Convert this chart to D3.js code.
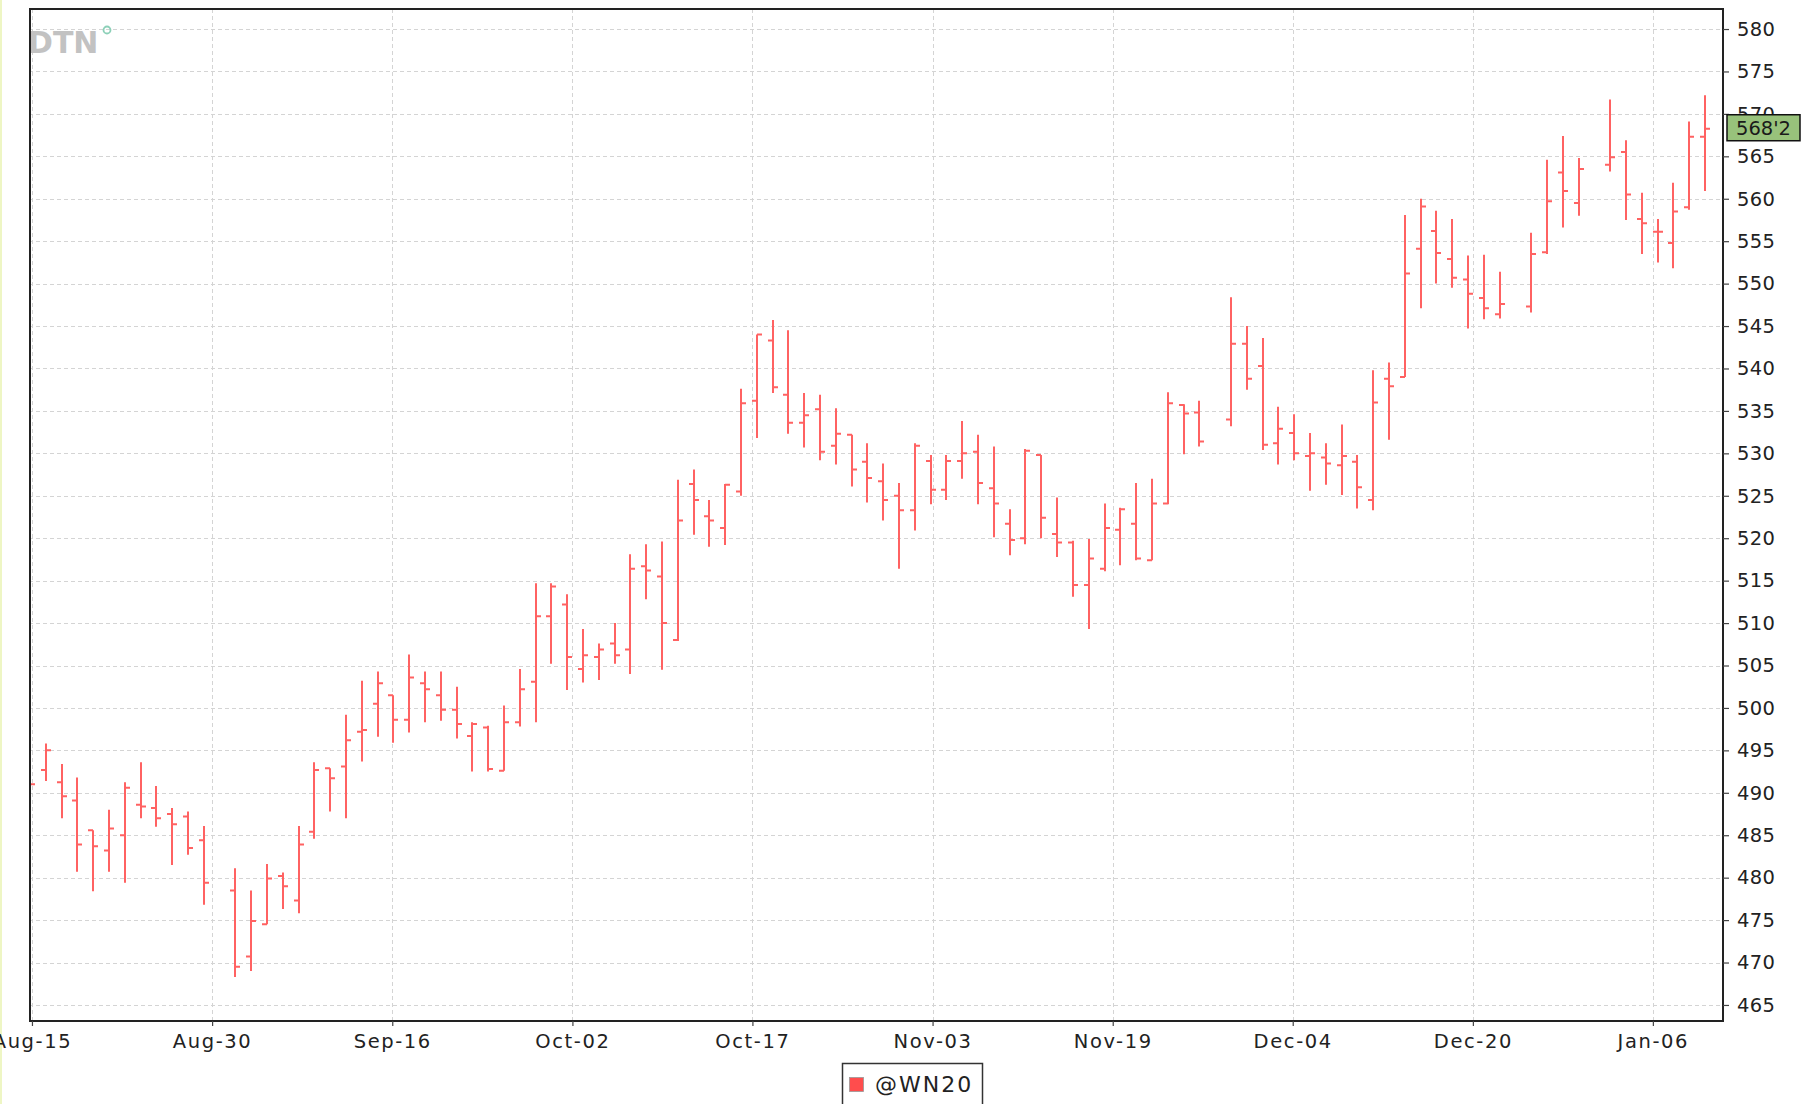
<!DOCTYPE html>
<html>
<head>
<meta charset="utf-8">
<script src="https://cdn.jsdelivr.net/npm/d3@7"></script>
<style>
  html, body { margin: 0; padding: 0; background: #ffffff; }
  svg { display: block; }
  text { font-family: "DejaVu Sans", sans-serif; }
</style>
</head>
<body>
<svg id="chart" width="1807" height="1104"></svg>
<script>
// ---- data (OHLC, @WN20 daily bars) ----
const dates = [
  "2019-08-15","2019-08-16","2019-08-19","2019-08-20","2019-08-21","2019-08-22","2019-08-23",
  "2019-08-26","2019-08-27","2019-08-28","2019-08-29","2019-08-30",
  "2019-09-03","2019-09-04","2019-09-05","2019-09-06","2019-09-09","2019-09-10","2019-09-11",
  "2019-09-12","2019-09-13","2019-09-16","2019-09-17","2019-09-18","2019-09-19","2019-09-20",
  "2019-09-23","2019-09-24","2019-09-25","2019-09-26","2019-09-27","2019-09-30","2019-10-01",
  "2019-10-02","2019-10-03","2019-10-04","2019-10-07","2019-10-08","2019-10-09","2019-10-10",
  "2019-10-11","2019-10-14","2019-10-15","2019-10-16","2019-10-17","2019-10-18","2019-10-21",
  "2019-10-22","2019-10-23","2019-10-24","2019-10-25","2019-10-28","2019-10-29","2019-10-30",
  "2019-10-31","2019-11-01","2019-11-04","2019-11-05","2019-11-06","2019-11-07","2019-11-08",
  "2019-11-11","2019-11-12","2019-11-13","2019-11-14","2019-11-15","2019-11-18","2019-11-19",
  "2019-11-20","2019-11-21","2019-11-22","2019-11-25","2019-11-26","2019-11-27",
  "2019-11-29","2019-12-02","2019-12-03","2019-12-04","2019-12-05","2019-12-06","2019-12-09",
  "2019-12-10","2019-12-11","2019-12-12","2019-12-13","2019-12-16","2019-12-17","2019-12-18",
  "2019-12-19","2019-12-20","2019-12-23","2019-12-24",
  "2019-12-26","2019-12-27","2019-12-30","2019-12-31",
  "2020-01-02","2020-01-03","2020-01-06","2020-01-07","2020-01-08","2020-01-09","2020-01-10"
];
const opens = [
  491.0,492.7,491.25,489.1,485.6,483.2,485.0,488.6,488.2,487.5,487.2,484.4,
  478.5,470.7,474.5,480.2,477.3,485.4,492.9,493.1,497.2,500.5,501.5,498.6,502.9,501.5,
  499.8,496.7,497.7,492.6,498.3,503.1,510.8,512.2,504.6,506.0,507.6,506.9,516.7,515.5,
  508.0,526.4,522.6,521.2,525.5,536.2,543.3,536.9,533.6,535.2,530.9,532.2,529.0,526.7,
  525.0,523.3,529.1,525.7,529.1,530.2,525.9,521.7,520.0,529.8,520.5,519.5,514.5,516.4,
  521.0,521.7,517.4,524.1,535.7,534.8,
  534.0,542.9,540.3,531.2,532.4,529.7,529.5,528.6,529.0,524.5,538.8,539.0,554.1,556.2,
  552.9,550.5,548.3,546.4,
  547.3,553.7,563.1,559.5,
  564.0,565.5,557.6,556.1,554.8,559.0,567.3
];
const highs = [
  492.0,495.8,493.4,491.8,485.6,488.0,491.25,493.6,490.8,488.2,487.8,486.1,
  481.1,478.5,481.6,480.6,486.1,493.6,492.9,499.2,503.2,504.3,501.5,506.3,504.3,504.3,
  502.5,498.3,497.9,500.3,504.6,514.7,514.7,513.4,509.3,507.6,510.0,518.1,519.3,519.6,
  526.9,528.1,524.5,526.4,537.6,544.0,545.7,544.5,537.1,536.9,535.3,532.2,531.2,528.8,
  526.5,531.2,529.8,529.8,533.8,532.2,530.8,523.4,530.5,529.8,524.8,519.7,519.9,524.1,
  523.6,526.5,527.0,537.2,535.8,536.2,
  548.4,545.0,543.6,535.5,534.6,532.4,531.2,533.4,529.8,539.8,540.7,558.1,560.0,558.6,
  557.6,553.3,553.4,551.4,
  556.0,564.6,567.4,564.8,
  571.7,566.9,560.7,557.6,561.9,569.1,572.2
];
const lows = [
  490.0,491.4,487.0,480.7,478.4,480.7,479.4,487.0,486.0,481.5,482.7,476.8,
  468.3,469.0,474.5,476.3,475.8,484.6,487.8,487.0,493.7,496.6,495.9,497.1,498.3,498.5,
  496.4,492.5,492.5,492.6,497.8,498.3,505.2,502.1,503.0,503.3,505.2,504.0,512.8,504.5,
  507.9,520.4,519.0,519.2,525.0,531.8,537.1,532.3,530.7,529.2,528.7,526.1,524.2,522.1,
  516.4,520.9,524.0,524.5,527.0,524.0,520.1,518.0,519.3,520.0,517.8,513.1,509.3,516.1,
  516.8,517.4,517.4,524.0,529.9,530.8,
  533.2,537.5,530.4,528.7,529.2,525.6,526.3,525.1,523.5,523.3,531.6,539.0,547.1,550.0,
  549.5,544.7,545.8,545.9,
  546.6,553.5,556.6,558.0,
  563.2,557.5,553.5,552.5,551.8,558.7,560.9
];
const closes = [
  491.0,495.0,489.6,483.9,483.7,485.8,490.6,488.4,487.0,486.3,483.5,479.4,
  469.5,474.9,479.9,479.0,483.9,492.7,491.7,496.2,497.4,502.9,498.6,503.6,502.2,499.8,
  498.1,498.1,492.8,498.3,502.2,510.8,514.3,506.0,506.2,506.9,506.2,516.4,516.2,510.0,
  522.1,524.5,522.1,526.3,535.9,544.0,537.8,533.6,534.5,530.2,532.3,528.1,527.1,524.5,
  523.3,530.9,525.7,529.1,530.0,526.5,524.1,519.8,530.3,522.4,519.5,514.5,517.6,521.2,
  523.4,517.6,524.1,535.9,534.7,531.4,
  542.9,538.8,531.0,532.9,530.0,530.0,528.8,529.7,526.0,536.0,537.9,551.2,559.1,553.6,
  550.7,548.8,547.1,547.6,
  553.5,559.7,560.9,563.5,
  564.9,560.5,557.1,556.1,558.5,567.3,568.25
];
const seriesName = "@WN20";
const lastLabel = "568'2";
const xTickLabels = ["Aug-15","Aug-30","Sep-16","Oct-02","Oct-17","Nov-03","Nov-19","Dec-04","Dec-20","Jan-06"];
const xTickSlots = [0.13, 11.53, 22.93, 34.33, 45.72, 57.12, 68.52, 79.91, 91.31, 102.70];
const yTicks = [465,470,475,480,485,490,495,500,505,510,515,520,525,530,535,540,545,550,555,560,565,570,575,580];

// ---- layout ----
const svg = d3.select("#chart");
const W = 1807, H = 1104;
const plot = { left: 29, right: 1723, top: 9, bottom: 1021 };

// trading-day slot: weekdays elapsed since first date (holidays leave gaps)
const parse = d3.timeParse("%Y-%m-%d");
const d0 = parse(dates[0]);
function slotOf(s) {
  const d = parse(s);
  let n = 0;
  for (let t = new Date(d0); t < d; t.setDate(t.getDate() + 1)) {
    const wd = t.getDay();
    if (wd !== 0 && wd !== 6) n++;
  }
  return n;
}
const bars = dates.map((s, i) => ({
  date: s, slot: slotOf(s), o: opens[i], h: highs[i], l: lows[i], c: closes[i]
}));

const x = d3.scaleLinear().domain([0, 107]).range([29.9, 29.9 + 107 * 15.803]);
const y = d3.scaleLinear().domain([463.11, 582.36]).range([plot.bottom, plot.top]);

svg.append("rect").attr("width", W).attr("height", H).attr("fill", "#ffffff");
// faint left edge highlight
svg.append("line").attr("x1", 1).attr("x2", 1).attr("y1", 0).attr("y2", H)
  .attr("stroke", "#eef6c4").attr("stroke-width", 2);

svg.append("defs").append("clipPath").attr("id", "plotclip")
  .append("rect").attr("x", plot.left).attr("y", plot.top)
  .attr("width", plot.right - plot.left).attr("height", plot.bottom - plot.top);

const g = svg.append("g").attr("clip-path", "url(#plotclip)");

// gridlines
g.append("g").selectAll("line.hg").data(yTicks).join("line")
  .attr("x1", plot.left).attr("x2", plot.right)
  .attr("y1", d => Math.round(y(d)) + 0.5).attr("y2", d => Math.round(y(d)) + 0.5)
  .attr("stroke", "#d4d4d4").attr("stroke-width", 1).attr("stroke-dasharray", "4,3");
g.append("g").selectAll("line.vg").data(xTickSlots).join("line")
  .attr("x1", d => Math.round(x(d)) + 0.5).attr("x2", d => Math.round(x(d)) + 0.5)
  .attr("y1", plot.top).attr("y2", plot.bottom)
  .attr("stroke", "#d4d4d4").attr("stroke-width", 1).attr("stroke-dasharray", "4,3");

// DTN logo
g.append("text").attr("x", 28).attr("y", 53).text("DTN")
  .attr("font-size", 30).attr("font-weight", "bold").attr("fill", "#c2c2c2");
g.append("circle").attr("cx", 107).attr("cy", 30).attr("r", 3.5)
  .attr("fill", "none").attr("stroke", "#8cd0b8").attr("stroke-width", 1.8);

// OHLC bars
const tk = 5;
g.append("g").selectAll("path.bar").data(bars).join("path")
  .attr("d", d => {
    const cx = Math.round(x(d.slot));
    return `M${cx},${y(d.h)}V${y(d.l)}M${cx - tk},${y(d.o)}H${cx}M${cx},${y(d.c)}H${cx + tk}`;
  })
  .attr("fill", "none").attr("stroke", "#ff6262").attr("stroke-width", 2);

// plot border
svg.append("rect").attr("x", plot.left + 1).attr("y", plot.top)
  .attr("width", plot.right - plot.left - 1).attr("height", plot.bottom - plot.top)
  .attr("fill", "none").attr("stroke", "#222").attr("stroke-width", 2);

// y axis (right)
const yAxis = svg.append("g").attr("transform", `translate(${plot.right},0)`)
  .call(d3.axisRight(y).tickValues(yTicks).tickSize(6).tickPadding(8).tickFormat(d3.format("d")));
yAxis.select(".domain").remove();
yAxis.selectAll(".tick line").attr("stroke", "#444").attr("stroke-width", 1.2);
yAxis.selectAll("text").attr("font-size", 19.5).attr("fill", "#222")
  .attr("font-family", "DejaVu Sans, sans-serif").attr("letter-spacing", 0.3);

// x axis (bottom)
const xAxis = svg.append("g").attr("transform", `translate(0,${plot.bottom})`)
  .call(d3.axisBottom(x).tickValues(xTickSlots).tickSize(5).tickPadding(8)
    .tickFormat((d, i) => xTickLabels[i]));
xAxis.select(".domain").remove();
xAxis.selectAll(".tick line").attr("stroke", "#444").attr("stroke-width", 1.2);
xAxis.selectAll("text").attr("font-size", 19.5).attr("fill", "#222")
  .attr("font-family", "DejaVu Sans, sans-serif").attr("letter-spacing", 1.6);

// last price tag
const lastY = y(closes[closes.length - 1]);
svg.append("rect").attr("x", 1727).attr("y", lastY - 14).attr("width", 73).attr("height", 26)
  .attr("fill", "#98c27b").attr("stroke", "#111").attr("stroke-width", 1.5);
svg.append("text").attr("x", 1763.5).attr("y", lastY + 6).attr("text-anchor", "middle")
  .attr("font-size", 19.5).attr("fill", "#1a1a1a").text(lastLabel);

// legend
const lg = svg.append("g");
lg.append("rect").attr("x", 842.5).attr("y", 1063.5).attr("width", 140).attr("height", 60)
  .attr("fill", "#fff").attr("stroke", "#333").attr("stroke-width", 1.5);
lg.append("rect").attr("x", 849.5).attr("y", 1077.5).attr("width", 14).attr("height", 14)
  .attr("fill", "#ff4d4d").attr("stroke", "#999").attr("stroke-width", 0.8);
lg.append("text").attr("x", 875).attr("y", 1092).attr("font-size", 22)
  .attr("letter-spacing", 2).attr("fill", "#222").text(seriesName);
</script>
</body>
</html>
